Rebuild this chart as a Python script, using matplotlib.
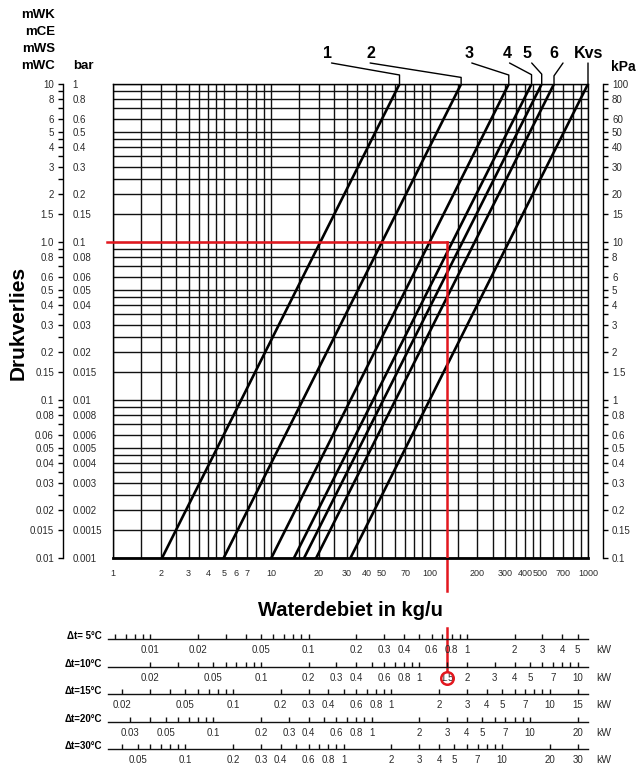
import matplotlib.pyplot as plt
from matplotlib import transforms
from matplotlib.ticker import FixedLocator, FixedFormatter, NullFormatter, NullLocator

plt.rcParams['font.family'] = ['Liberation Sans', 'DejaVu Sans']

# Kv-lijnen: debiet (kg/u) aan de onderkant (0.01 mWK) en bovenkant (10 mWK)
lijn_namen = ['1', '2', '3', '4', '5', '6', 'Kvs']
debiet_onder = [2.04, 5.0, 10.0, 13.9, 16.1, 19.2, 31.6]
debiet_boven = [64.5, 158, 316, 440, 510, 610, 1000]
dp_onder, dp_boven = 0.01, 10.0

# rasterlijnen per decade
raster = [1, 1.5, 2, 2.5, 3, 3.5, 4, 4.5, 5, 6, 7, 8, 9]
x_labels = [1, 2, 3, 4, 5, 6, 7, 10, 20, 30, 40, 50, 70, 100, 200, 300, 400, 500, 700, 1000]
mwk_waarden = [10, 8, 6, 5, 4, 3, 2, 1.5, 1, 0.8, 0.6, 0.5, 0.4, 0.3, 0.2, 0.15,
               0.1, 0.08, 0.06, 0.05, 0.04, 0.03, 0.02, 0.015, 0.01]
mwk_tekst = ['10', '8', '6', '5', '4', '3', '2', '1.5', '1.0', '0.8', '0.6', '0.5', '0.4',
             '0.3', '0.2', '0.15', '0.1', '0.08', '0.06', '0.05', '0.04', '0.03', '0.02',
             '0.015', '0.01']
bar_tekst = ['1', '0.8', '0.6', '0.5', '0.4', '0.3', '0.2', '0.15', '0.1', '0.08', '0.06',
             '0.05', '0.04', '0.03', '0.02', '0.015', '0.01', '0.008', '0.006', '0.005',
             '0.004', '0.003', '0.002', '0.0015', '0.001']
kpa_tekst = ['100', '80', '60', '50', '40', '30', '20', '15', '10', '8', '6', '5', '4', '3',
             '2', '1.5', '1', '0.8', '0.6', '0.5', '0.4', '0.3', '0.2', '0.15', '0.1']

# voorbeeld (rode lijn)
rood_debiet = 129
rood_dp = 1.0
rood_start = 0.92
rood_kw = 1.5

# vermogensschalen
dt_rij = [5, 10, 15, 20, 30]
kw_labels = [
    [0.01, 0.02, 0.05, 0.1, 0.2, 0.3, 0.4, 0.6, 0.8, 1, 2, 3, 4, 5],
    [0.02, 0.05, 0.1, 0.2, 0.3, 0.4, 0.6, 0.8, 1, 1.5, 2, 3, 4, 5, 7, 10],
    [0.02, 0.05, 0.1, 0.2, 0.3, 0.4, 0.6, 0.8, 1, 2, 3, 4, 5, 7, 10, 15],
    [0.03, 0.05, 0.1, 0.2, 0.3, 0.4, 0.6, 0.8, 1, 2, 3, 4, 5, 7, 10, 20],
    [0.05, 0.1, 0.2, 0.3, 0.4, 0.6, 0.8, 1, 2, 3, 4, 5, 7, 10, 20, 30],
]
kw_per_kgu_K = 0.001163
schaal_debiet_min = 0.93

W, H = 640, 766
def box(l, t, r, b):
    return [l / W, 1 - b / H, (r - l) / W, (b - t) / H]

fig = plt.figure(figsize=(6.4, 7.66), dpi=100)
zwart = '#111111'
tekstkleur = '#2a2a2a'
klein = 7

ax = fig.add_axes(box(113, 84, 588, 558))
ax.set_xscale('log')
ax.set_yscale('log')
ax.set_xlim(1, 1000)
ax.set_ylim(dp_onder, dp_boven)

for q0, q1 in zip(debiet_onder, debiet_boven):
    ax.plot([q0, q1], [dp_onder, dp_boven], color='black', lw=1.9, zorder=3)

x_raster = [m * 10 ** k for k in range(3) for m in raster] + [1000]
y_raster = [m * 10.0 ** k for k in (-2, -1, 0) for m in raster] + [10]
ax.xaxis.set_major_locator(FixedLocator(x_labels))
ax.xaxis.set_major_formatter(FixedFormatter([f'{v:g}' for v in x_labels]))
ax.xaxis.set_minor_locator(FixedLocator(x_raster))
ax.xaxis.set_minor_formatter(NullFormatter())
ax.yaxis.set_major_locator(FixedLocator(y_raster))
ax.yaxis.set_major_formatter(NullFormatter())
ax.yaxis.set_minor_locator(NullLocator())
ax.grid(True, which='both', color=zwart, lw=1.0)
ax.tick_params(which='both', length=0)
ax.tick_params(axis='x', labelsize=6.5, pad=8, labelcolor=tekstkleur)
for s in ax.spines.values():
    s.set_linewidth(1.0)
ax.spines['bottom'].set_linewidth(2.0)

# mWK-as links
ax_m = ax.twinx()
ax_m.set_yscale('log')
ax_m.set_ylim(dp_onder, dp_boven)
ax_m.yaxis.tick_left()
ax_m.spines['left'].set_position(('axes', -50 / 475))
for side in ['right', 'top', 'bottom']:
    ax_m.spines[side].set_visible(False)
ax_m.spines['left'].set_linewidth(1.0)
ax_m.yaxis.set_major_locator(FixedLocator(mwk_waarden))
ax_m.yaxis.set_major_formatter(FixedFormatter(mwk_tekst))
ax_m.yaxis.set_minor_locator(FixedLocator(y_raster))
ax_m.yaxis.set_minor_formatter(NullFormatter())
ax_m.tick_params(which='both', length=3.5, width=1, labelsize=klein, pad=3, labelcolor=tekstkleur)

# bar-labels
ax_b = ax.twinx()
ax_b.set_yscale('log')
ax_b.set_ylim(dp_onder / 10, dp_boven / 10)
ax_b.spines['right'].set_position(('axes', -50 / 475))
for s in ax_b.spines.values():
    s.set_visible(False)
ax_b.yaxis.set_major_locator(FixedLocator([v / 10 for v in mwk_waarden]))
ax_b.yaxis.set_major_formatter(FixedFormatter(bar_tekst))
ax_b.yaxis.set_minor_locator(NullLocator())
ax_b.tick_params(length=0, labelsize=klein, pad=7, labelcolor=tekstkleur)

# kPa-as rechts
ax_k = ax.twinx()
ax_k.set_yscale('log')
ax_k.set_ylim(dp_onder * 10, dp_boven * 10)
ax_k.spines['right'].set_position(('axes', 1 + 15 / 475))
for side in ['left', 'top', 'bottom']:
    ax_k.spines[side].set_visible(False)
ax_k.spines['right'].set_linewidth(1.0)
ax_k.yaxis.set_major_locator(FixedLocator([v * 10 for v in mwk_waarden]))
ax_k.yaxis.set_major_formatter(FixedFormatter(kpa_tekst))
ax_k.yaxis.set_minor_locator(FixedLocator([v * 10 for v in y_raster]))
ax_k.yaxis.set_minor_formatter(NullFormatter())
ax_k.tick_params(which='both', length=3.5, width=1, labelsize=klein, pad=3, labelcolor=tekstkleur)

# lijnlabels met verbindingslijntjes
label_dx = [-72, -90, -40, -24, -15, 0, 1]
start_dx = [-68, -91, -37, -22, -10, 9, 0]
hoek = [-10, -9, -18, -28, -48, -125, None]
for naam, q1, ldx, sdx, a in zip(lijn_namen, debiet_boven, label_dx, start_dx, hoek):
    ax.annotate(naam, xy=(q1, dp_boven), xytext=(ldx, 31), textcoords='offset pixels',
                ha='center', va='center', fontsize=11.5, fontweight='bold', annotation_clip=False)
    stijl = 'arc3' if a is None else f'angle,angleA={a},angleB=90,rad=0'
    ax.annotate('', xy=(q1, dp_boven), xytext=(sdx, 21), textcoords='offset pixels',
                annotation_clip=False,
                arrowprops=dict(arrowstyle='-', lw=1.0, color='black', shrinkA=0, shrinkB=0,
                                connectionstyle=stijl))

# eenheden en titels
kop = dict(fontweight='bold', fontsize=9.5, ha='right', va='center')
for tekst, y in zip(['mWK', 'mCE', 'mWS', 'mWC'], [15, 32, 49, 66]):
    fig.text(55 / W, 1 - y / H, tekst, **kop)
fig.text(73 / W, 1 - 66 / H, 'bar', fontweight='bold', fontsize=9.5, ha='left', va='center')
fig.text(611 / W, 1 - 67 / H, 'kPa', fontweight='bold', fontsize=10, ha='left', va='center')
fig.text(18 / W, 1 - 323 / H, 'Drukverlies', rotation=90, fontweight='bold', fontsize=15,
         ha='center', va='center')
fig.text(350 / W, 1 - 611 / H, 'Waterdebiet in kg/u', fontweight='bold', fontsize=14.5,
         ha='center', va='center')

# vermogensschalen onder de grafiek
rij_y = [639, 667, 694, 722, 749]
rij_axes = []
for dt, labels, y in zip(dt_rij, kw_labels, rij_y):
    r = fig.add_axes(box(108, y - 0.5, 588, y))
    r.set_xscale('log')
    kw_min = schaal_debiet_min * dt * kw_per_kgu_K
    kw_max = 1000 * dt * kw_per_kgu_K
    r.set_xlim(kw_min, kw_max)
    r.set_yticks([])
    r.patch.set_visible(False)
    for side in ['left', 'right', 'top']:
        r.spines[side].set_visible(False)
    r.spines['bottom'].set_linewidth(1.0)
    r.spines['bottom'].set_color(zwart)
    alle = [m * 10.0 ** k for k in range(-3, 3) for m in range(1, 10)]
    alle = [v for v in alle if kw_min <= v <= kw_max and v not in labels]
    r.xaxis.set_major_locator(FixedLocator(labels))
    r.xaxis.set_major_formatter(FixedFormatter([f'{v:g}' for v in labels]))
    r.xaxis.set_minor_locator(FixedLocator(alle))
    r.xaxis.set_minor_formatter(NullFormatter())
    r.tick_params(which='both', direction='in', length=3.5, width=1, color=zwart,
                  labelsize=klein, pad=4, labelcolor=tekstkleur)
    r.annotate(f'\u0394t={dt:2d}\u00b0C', xy=(0, 0), xycoords='axes fraction',
               xytext=(-6, 3), textcoords='offset pixels', ha='right', va='center',
               fontsize=7, fontweight='bold', annotation_clip=False)
    r.annotate('kW', xy=(1, 0), xycoords='axes fraction', xytext=(8, -11),
               textcoords='offset pixels', ha='left', va='center', fontsize=7.5,
               color=tekstkleur, annotation_clip=False)
    rij_axes.append(r)

# rode voorbeeldlijn
rood = '#e3171e'
ax.plot([rood_start, rood_debiet], [rood_dp, rood_dp], color=rood, lw=1.8, clip_on=False, zorder=5)
ax.plot([rood_debiet, rood_debiet], [rood_dp, dp_onder], color=rood, lw=1.8, zorder=5)
xt = ax.get_xaxis_transform()
ax.plot([rood_debiet, rood_debiet], [0, -33 / 474], color=rood, lw=1.8, transform=xt, clip_on=False)
ax.plot([rood_debiet, rood_debiet], [-70 / 474, -113 / 474], color=rood, lw=1.8, transform=xt,
        clip_on=False)
r2 = rij_axes[dt_rij.index(10)]
cirkel_trans = transforms.offset_copy(r2.get_xaxis_transform(), fig=fig, x=0, y=-11, units='dots')
r2.plot([rood_kw], [0], marker='o', ms=9, mfc='none', mec=rood, mew=1.8,
        transform=cirkel_trans, clip_on=False)

fig.savefig('out.png', dpi=100)
